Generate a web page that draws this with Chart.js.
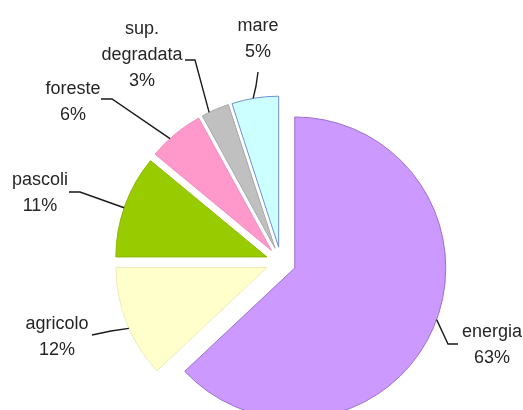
<!DOCTYPE html>
<html>
<head>
<meta charset="utf-8">
<style>
  html, body { margin: 0; padding: 0; background: #fff; overflow: hidden; }
  #wrap { width: 523px; height: 410px; }
</style>
</head>
<body>
<div id="wrap"><canvas id="chart" width="523" height="410"></canvas></div>
<script src="https://cdn.jsdelivr.net/npm/chart.js@4.4.0/dist/chart.umd.min.js"></script>
<script>
const categories = ['energia', 'agricolo', 'pascoli', 'foreste', 'sup. degradata', 'mare'];
const shares = [63, 12, 11, 6, 3, 5];
const fillColors = ['#cc99ff', '#ffffcc', '#99cc00', '#ff99cc', '#c0c0c0', '#ccffff'];
const edgeColors = ['#9a70d0', '#ecebb8', '#8ab800', '#f08cc0', '#a8a8a8', '#7090d0'];

// label text: centre x, first baseline, elbow points of the leader, where the leader touches the arc (0..1)
const labelSpots = [
    { x: 492, y: 337, path: [[448, 344], [458, 344]], at: 0.485 },
    { x: 57,  y: 329, path: [[111, 331], [92, 335]], at: 0.45 },
    { x: 40,  y: 185, path: [[80, 192], [69, 192]], at: 0.48 },
    { x: 73,  y: 94,  path: [[112, 99], [101, 99]], at: 0.38 },
    { x: 142, y: 34,  path: [[195, 60], [185, 60]], at: 0.27 },
    { x: 258, y: 31,  path: [[256, 86], [258, 72]], at: 0.46 }
];

const EXPLODE = 15;     // how far every slice is pulled out, px
const PIE_RADIUS = 151;
const LINE_GAP = 26;

// pull every slice straight out along its bisector by moving the arc's own centre,
// so the radius and sweep stay exactly what the controller computed
const explodeSlices = {
    id: 'explodeSlices',
    afterDatasetsUpdate(chart) {
        chart.getDatasetMeta(0).data.forEach(arc => {
            const mid = (arc.startAngle + arc.endAngle) / 2;
            arc.x += Math.cos(mid) * EXPLODE;
            arc.y += Math.sin(mid) * EXPLODE;
        });
    }
};

const outsideLabels = {
    id: 'outsideLabels',
    afterDatasetsDraw(chart) {
        const ctx = chart.ctx;
        const arcs = chart.getDatasetMeta(0).data;
        ctx.save();
        ctx.font = '18px "Liberation Sans", Arial, sans-serif';
        ctx.fillStyle = '#262626';
        ctx.strokeStyle = '#1a1a1a';
        ctx.lineWidth = 1.4;
        ctx.textAlign = 'center';
        ctx.textBaseline = 'alphabetic';

        arcs.forEach((arc, i) => {
            const spot = labelSpots[i];
            const a = arc.startAngle + (arc.endAngle - arc.startAngle) * spot.at;
            const ax = arc.x + Math.cos(a) * arc.outerRadius;
            const ay = arc.y + Math.sin(a) * arc.outerRadius;

            ctx.beginPath();
            ctx.moveTo(ax, ay);
            spot.path.forEach(p => ctx.lineTo(p[0], p[1]));
            ctx.stroke();

            const lines = categories[i].split(' ').concat([shares[i] + '%']);
            lines.forEach((txt, k) => ctx.fillText(txt, spot.x, spot.y + k * LINE_GAP));
        });
        ctx.restore();
    }
};

new Chart(document.getElementById('chart'), {
    type: 'pie',
    data: {
        labels: categories,
        datasets: [{
            data: shares,
            backgroundColor: fillColors,
            borderColor: edgeColors,
            borderWidth: 1,
            clip: false
        }]
    },
    options: {
        responsive: false,
        animation: false,
        devicePixelRatio: 1,
        radius: PIE_RADIUS,
        layout: { padding: { left: 39, right: 0, top: 114, bottom: 0 } },
        events: [],
        plugins: {
            legend: { display: false },
            tooltip: { enabled: false }
        }
    },
    plugins: [explodeSlices, outsideLabels]
});
</script>
</body>
</html>
